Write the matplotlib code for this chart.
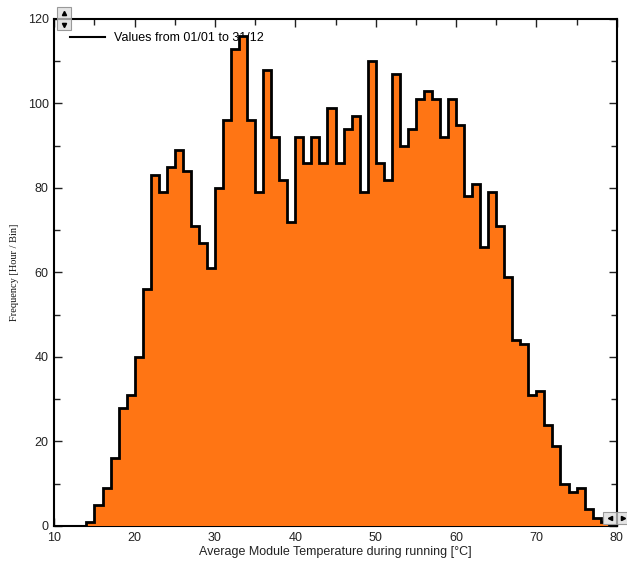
import numpy as np
import matplotlib
matplotlib.use("Agg")
import matplotlib.pyplot as plt
from matplotlib.patches import Rectangle

# hours per 1 degC bin, bins start at 14 degC
bin_start = 14
counts = [1, 5, 9, 16, 28, 31, 40, 56, 83, 79, 85, 89, 84, 71, 67, 61,
          80, 96, 113, 116, 96, 79, 108, 92, 82, 72, 92, 86, 92, 86, 99, 86,
          94, 97, 79, 110, 86, 82, 107, 90, 94, 101, 103, 101, 92, 101, 95,
          78, 81, 66, 79, 71, 59, 44, 43, 31, 32, 24, 19, 10, 8, 9, 4, 2, 1]
edges = np.arange(bin_start, bin_start + len(counts) + 1)
legend_label = "Values from 01/01 to 31/12"
xlabel = "Average Module Temperature during running [\u00b0C]"
ylabel = "Frequency [Hour / Bin]"

fig = plt.figure(figsize=(6.27, 5.64), dpi=100)
ax = fig.add_axes([0.0866, 0.0674, 0.897, 0.899])

ax.stairs(counts, edges, baseline=0, fill=True, color="#ff7514", lw=0, zorder=3)
ax.stairs(counts, edges, baseline=0, fill=False, color="black", lw=2, zorder=4)

ax.set_xlim(10, 80)
ax.set_ylim(0, 120)
ax.set_xticks(np.arange(10, 81, 10))
ax.set_xticks(np.arange(15, 80, 10), minor=True)
ax.set_yticks(np.arange(0, 121, 20))
ax.set_yticks(np.arange(10, 120, 20), minor=True)
ax.tick_params(which="both", direction="in", top=True, right=True,
               labelsize=9, colors="#222222", pad=4,
               labelfontfamily="Liberation Sans")
ax.tick_params(which="major", length=6, width=1)
ax.tick_params(which="minor", length=4, width=1)
for s in ax.spines.values():
    s.set_linewidth(1.5)

ax.set_xlabel(xlabel, fontsize=9, family="Liberation Sans", color="#222222", labelpad=2)
ax.set_ylabel(ylabel, fontsize=7.5, family="Liberation Serif", color="#111111", labelpad=6)

leg = ax.legend([plt.Line2D([], [], color="black", lw=1.5)], [legend_label],
                loc="center left", bbox_to_anchor=(0.028, 0.9625), frameon=False,
                handlelength=2.8, handletextpad=0.75, borderaxespad=0, borderpad=0,
                prop={"family": "Liberation Sans", "size": 9})
leg.set_zorder(1)

# little scroll buttons of the original widget
def button(x, y, w, h, marker):
    fig.patches.append(Rectangle((x / 627, 1 - (y + h) / 564), w / 627, h / 564,
                                 transform=fig.transFigure, facecolor="#e4e4e4",
                                 edgecolor="#999999", lw=0.8, zorder=10))
    fig.lines.append(plt.Line2D([(x + w / 2) / 627], [1 - (y + h / 2) / 564],
                                transform=fig.transFigure, marker=marker, ms=3,
                                color="black", zorder=11))

button(57, 7, 14, 11, "^")
button(57, 19, 14, 11, "v")
button(603, 512, 13, 12, "<")
button(617, 512, 12, 12, ">")

fig.savefig("out.png", dpi=100)
